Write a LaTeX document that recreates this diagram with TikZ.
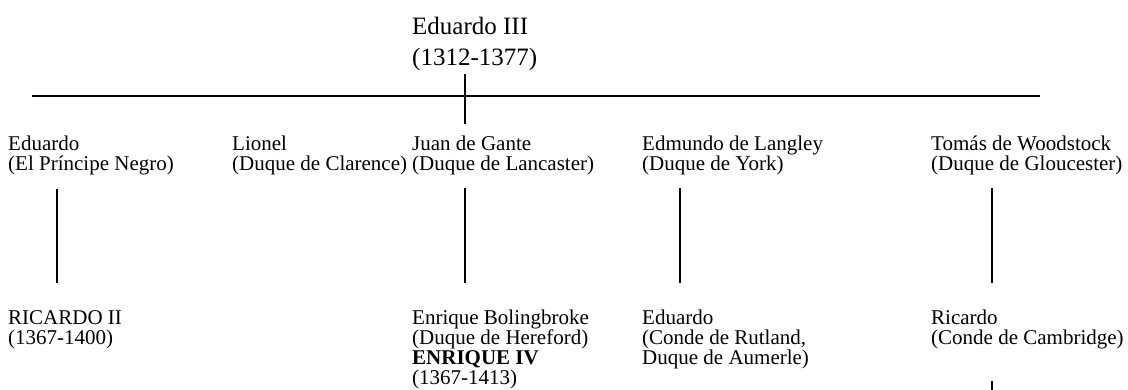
\documentclass[tikz,border=0pt]{standalone}
\usepackage{fontspec}
\setmainfont{Liberation Serif}
\tikzset{
	persona/.style={anchor=north west, inner sep=0pt, align=left, font=\fontsize{21}{20}\selectfont},
	rey/.style={persona, font=\fontsize{25}{31}\selectfont},
	linaje/.style={line width=1.2pt}
}
\begin{document}
\begin{tikzpicture}[x=1pt,y=-1pt]
	\useasboundingbox (0,0) rectangle (1128,390);
	\node[rey] (eduardoIII) at (412,17) {Eduardo III\\(1312-1377)};
	\coordinate (izq) at (32,96);
	\coordinate (der) at (1040,96);
	\draw[linaje] (izq) -- (der);

	\node[persona] (eduardo) at (8,136) {Eduardo\\(El Príncipe Negro)};
	\node[persona] (lionel) at (232,136) {Lionel\\(Duque de Clarence)};
	\node[persona] (juan) at (412,136) {Juan de Gante\\(Duque de Lancaster)};
	\node[persona] (edmundo) at (642,136) {Edmundo de Langley\\(Duque de York)};
	\node[persona] (tomas) at (931,136) {Tomás de Woodstock\\(Duque de Gloucester)};

	\node[persona] (ricardoII) at (8,310) {RICARDO II\\(1367-1400)};
	\node[persona] (enrique) at (412,310) {Enrique Bolingbroke\\(Duque de Hereford)\\\textbf{ENRIQUE IV}\\(1367-1413)};
	\node[persona] (rutland) at (642,310) {Eduardo\\(Conde de Rutland,\\Duque de Aumerle)};
	\node[persona] (cambridge) at (931,310) {Ricardo\\(Conde de Cambridge)};
	\coordinate (sigue) at (992,390);

	\draw[linaje, shorten <=3pt, shorten >=12pt] ([xshift=53pt]eduardoIII.south west) -- ([xshift=53pt]juan.north west);
	\draw[linaje, shorten <=13pt, shorten >=27pt] ([xshift=49pt]eduardo.south west) -- ([xshift=49pt]ricardoII.north west);
	\draw[linaje, shorten <=13pt, shorten >=27pt] ([xshift=53pt]juan.south west) -- ([xshift=53pt]enrique.north west);
	\draw[linaje, shorten <=13pt, shorten >=27pt] ([xshift=38pt]edmundo.south west) -- ([xshift=38pt]rutland.north west);
	\draw[linaje, shorten <=13pt, shorten >=27pt] ([xshift=61pt]tomas.south west) -- ([xshift=61pt]cambridge.north west);
	\draw[linaje, shorten <=31pt] ([xshift=61pt]cambridge.south west) -- (sigue);
\end{tikzpicture}
\end{document}
